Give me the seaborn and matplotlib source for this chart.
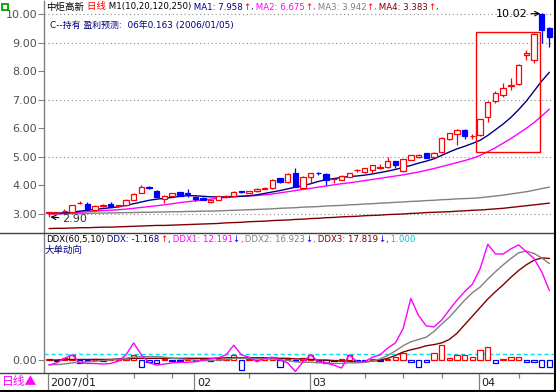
import numpy as np
import matplotlib
matplotlib.use('agg')
import matplotlib.pyplot as plt
import seaborn as sns
from matplotlib.lines import Line2D
from matplotlib.patches import Rectangle

sns.set_style('white')
FAM = ['DejaVu Sans', 'Noto Sans CJK SC']
plt.rcParams['font.family'] = FAM

# ---- daily candles, 2007/01 .. 2007/04 ----
opens = [3.02, 3.03, 3.11, 3.07, 3.37, 3.36, 3.14, 3.29, 3.35, 3.27,
         3.30, 3.50, 3.74, 3.95, 3.82, 3.52, 3.62, 3.77, 3.73, 3.58,
         3.55, 3.42, 3.50, 3.62, 3.64, 3.81, 3.75, 3.80, 3.89, 3.91,
         4.25, 4.12, 4.45, 3.92, 4.30, 4.44, 4.40, 4.21, 4.20, 4.30,
         4.53, 4.47, 4.53, 4.62, 4.63, 4.85, 4.52, 4.90, 5.00, 5.13,
         5.00, 5.17, 5.62, 5.80, 5.94, 5.72, 5.76, 6.40, 6.95, 7.15,
         7.48, 7.55, 8.58, 8.40, 10.00, 9.50]
closes = [3.06, 3.07, 3.12, 3.30, 3.38, 3.18, 3.28, 3.30, 3.25, 3.31,
          3.50, 3.70, 3.95, 3.90, 3.60, 3.63, 3.72, 3.64, 3.71, 3.53,
          3.50, 3.50, 3.62, 3.63, 3.77, 3.76, 3.79, 3.88, 3.90, 4.19,
          4.12, 4.40, 3.95, 4.30, 4.43, 4.42, 4.20, 4.22, 4.33, 4.43,
          4.54, 4.60, 4.70, 4.63, 4.85, 4.70, 4.92, 5.06, 5.06, 4.96,
          5.13, 5.66, 5.83, 5.94, 5.73, 5.73, 6.32, 6.92, 7.25, 7.40,
          7.50, 8.20, 8.62, 9.30, 9.45, 9.20]
highs = [3.08, 3.08, 3.16, 3.31, 3.47, 3.42, 3.30, 3.36, 3.42, 3.33,
         3.52, 3.72, 4.00, 3.97, 3.85, 3.65, 3.74, 3.78, 3.88, 3.62,
         3.58, 3.52, 3.64, 3.67, 3.79, 3.82, 3.80, 3.90, 3.93, 4.21,
         4.27, 4.42, 4.60, 4.32, 4.45, 4.47, 4.42, 4.27, 4.35, 4.45,
         4.58, 4.62, 4.72, 4.76, 5.00, 4.87, 4.94, 5.08, 5.10, 5.15,
         5.16, 5.68, 5.85, 5.97, 5.96, 5.80, 6.34, 6.95, 7.30, 7.60,
         7.75, 8.25, 8.75, 9.33, 10.02, 9.55]
lows = [2.90, 3.01, 3.08, 3.05, 3.36, 3.17, 3.12, 3.25, 3.23, 3.24,
        3.28, 3.48, 3.72, 3.88, 3.58, 3.40, 3.60, 3.62, 3.60, 3.46,
        3.48, 3.40, 3.48, 3.55, 3.62, 3.74, 3.73, 3.78, 3.86, 3.89,
        4.10, 4.10, 3.93, 3.88, 4.08, 4.38, 4.02, 4.10, 4.18, 4.28,
        4.47, 4.45, 4.45, 4.58, 4.61, 4.62, 4.48, 4.88, 4.95, 4.95,
        4.96, 5.15, 5.60, 5.40, 5.62, 5.62, 5.74, 6.22, 6.90, 7.10,
        7.35, 7.50, 8.40, 8.30, 8.98, 8.85]

# moving averages
ma1 = [3.03, 3.03, 3.04, 3.06, 3.10, 3.13, 3.16, 3.19, 3.22, 3.25,
       3.30, 3.36, 3.42, 3.48, 3.52, 3.55, 3.58, 3.62, 3.64, 3.64,
       3.62, 3.60, 3.60, 3.60, 3.61, 3.62, 3.64, 3.67, 3.72, 3.77,
       3.82, 3.88, 3.94, 3.99, 4.06, 4.14, 4.20, 4.24, 4.28, 4.31,
       4.33, 4.36, 4.40, 4.45, 4.50, 4.56, 4.63, 4.70, 4.78, 4.85,
       4.93, 5.05, 5.17, 5.28, 5.37, 5.47, 5.58, 5.75, 5.95, 6.15,
       6.38, 6.65, 6.95, 7.30, 7.65, 7.96]
ma2 = [3.00, 3.01, 3.02, 3.04, 3.06, 3.08, 3.10, 3.12, 3.13, 3.15,
       3.17, 3.20, 3.23, 3.26, 3.29, 3.32, 3.36, 3.40, 3.43, 3.46,
       3.49, 3.52, 3.55, 3.58, 3.60, 3.62, 3.63, 3.65, 3.67, 3.70,
       3.74, 3.78, 3.82, 3.86, 3.90, 3.94, 3.98, 4.02, 4.06, 4.09,
       4.13, 4.17, 4.21, 4.25, 4.29, 4.33, 4.37, 4.42, 4.47, 4.53,
       4.59, 4.66, 4.73, 4.80, 4.87, 4.95, 5.05, 5.18, 5.32, 5.48,
       5.64, 5.82, 6.00, 6.20, 6.43, 6.67]
ma3 = [3.00, 3.00, 3.01, 3.01, 3.02, 3.02, 3.03, 3.03, 3.04, 3.04,
       3.05, 3.05, 3.06, 3.06, 3.07, 3.07, 3.08, 3.08, 3.09, 3.09,
       3.10, 3.10, 3.11, 3.12, 3.13, 3.14, 3.15, 3.16, 3.17, 3.18,
       3.20, 3.21, 3.22, 3.24, 3.25, 3.26, 3.28, 3.29, 3.30, 3.32,
       3.33, 3.35, 3.36, 3.38, 3.39, 3.41, 3.42, 3.44, 3.45, 3.47,
       3.48, 3.50, 3.51, 3.53, 3.54, 3.55, 3.57, 3.60, 3.63, 3.66,
       3.70, 3.74, 3.78, 3.83, 3.89, 3.94]
ma4 = [2.49, 2.50, 2.50, 2.51, 2.52, 2.52, 2.53, 2.54, 2.54, 2.55,
       2.56, 2.57, 2.58, 2.59, 2.60, 2.60, 2.61, 2.62, 2.63, 2.64,
       2.65, 2.66, 2.67, 2.69, 2.70, 2.71, 2.73, 2.74, 2.75, 2.77,
       2.78, 2.79, 2.81, 2.82, 2.84, 2.85, 2.87, 2.88, 2.90, 2.91,
       2.92, 2.94, 2.95, 2.96, 2.98, 2.99, 3.00, 3.02, 3.03, 3.05,
       3.06, 3.07, 3.08, 3.10, 3.11, 3.13, 3.14, 3.16, 3.18, 3.20,
       3.23, 3.26, 3.29, 3.32, 3.35, 3.38]

# DDX indicator panel
ddx = [0.1, -0.2, 0.3, 0.9, -0.6, -0.2, 0.1, -0.1, 0.2, 0.2,
       0.4, 0.8, -1.3, -0.4, -0.5, 0.1, -0.2, -0.1, 0.3, -0.1,
       0.1, -0.1, 0.1, 0.2, 0.9, -1.8, 0.2, 0.4, 0.3, 0.4,
       -1.3, 0.2, -0.2, 0.3, 0.8, -0.2, -0.5, -0.2, 0.1, 0.8,
       -0.1, -0.1, 0.1, -0.1, 0.2, 0.5, 1.2, -0.3, -1.3, -0.3,
       1.2, 2.6, 0.3, 0.9, 0.8, 0.6, 1.8, 2.3, -0.5, 0.2,
       0.6, 0.6, -0.3, -0.3, -1.3, -1.17]
ddx1 = [-0.9, -0.5, 0.3, 0.9, -0.5, -0.6, -0.6, -0.7, -0.6, -0.2,
        0.9, 3.0, 0.9, -0.5, -0.9, -0.7, -0.5, -0.4, -0.4, -0.3,
        0.0, 0.2, 0.4, 0.9, 2.6, 0.9, 0.5, -0.3, 0.3, 0.5,
        0.0, -0.5, -2.0, -0.3, 0.9, -0.3, -0.5, -0.9, -1.4, 0.9,
        -0.3, -0.3, 0.5, 0.9, 2.1, 3.0, 5.5, 10.8, 7.8, 6.0,
        5.8, 7.0, 8.8, 10.5, 12.0, 13.3, 16.0, 20.3, 18.6, 18.6,
        19.5, 20.2, 19.0, 17.8, 15.5, 12.19]
ddx2 = [-0.8, -0.8, -0.7, -0.5, -0.4, -0.3, -0.2, -0.1, 0.0, 0.1,
        0.3, 0.5, 0.6, 0.6, 0.6, 0.5, 0.3, 0.2, 0.1, 0.0,
        -0.1, -0.1, 0.0, 0.1, 0.3, 0.3, 0.3, 0.2, 0.2, 0.2,
        0.1, -0.1, -0.3, -0.4, -0.4, -0.5, -0.5, -0.6, -0.6, -0.5,
        -0.5, -0.4, -0.2, 0.2, 0.8, 1.6, 2.5, 3.2, 3.6, 4.0,
        5.0, 6.3, 7.5, 9.0, 10.5, 11.8, 12.8, 14.2, 15.5, 16.7,
        17.8, 18.8, 19.1, 18.7, 17.9, 16.92]
ddx3 = [0.0, 0.0, 0.1, 0.1, 0.1, 0.1, 0.1, 0.1, 0.1, 0.2,
        0.2, 0.3, 0.3, 0.3, 0.3, 0.3, 0.3, 0.3, 0.3, 0.3,
        0.3, 0.3, 0.3, 0.4, 0.4, 0.4, 0.4, 0.4, 0.4, 0.4,
        0.3, 0.3, 0.2, 0.2, 0.1, 0.0, 0.0, -0.1, -0.2, -0.2,
        -0.3, -0.3, -0.2, 0.0, 0.3, 0.8, 1.4, 1.8, 2.1, 2.5,
        2.7, 3.0, 3.6, 4.7, 6.2, 7.7, 9.2, 10.7, 12.0, 13.2,
        14.5, 15.7, 16.7, 17.5, 17.9, 17.82]

month_start = [0, 19, 34, 56]
month_labels = ['2007/01', '02', '03', '04']
minor_ticks = [5, 11, 16, 26, 41, 46, 51, 61]
price_ticks = [3, 4, 5, 6, 7, 8, 9, 10]
grid_levels = [3, 5, 7, 9, 10]
box_first, box_last = 56, 63

RED = '#FF0000'
BLUE = '#0000FF'
NAVY = '#000080'
MAGENTA = '#FF00FF'
GRAY = '#808080'
DARKRED = '#800000'
CYAN = '#00C8D0'

W, H = 556, 392
fig = plt.figure(figsize=(W / 100, H / 100), dpi=100)
L, R = 44 / W, 554 / W
ax = fig.add_axes([L, 1 - 232 / H, R - L, 231 / H])
ax2 = fig.add_axes([L, 1 - 372 / H, R - L, 139 / H])
ax3 = fig.add_axes([L, 0, R - L, 19 / H])

x = np.arange(len(opens))
o, c = np.array(opens), np.array(closes)
h, l = np.array(highs), np.array(lows)
up = c >= o
lo_b, hi_b = np.minimum(o, c), np.maximum(o, c)
body = np.maximum(hi_b - lo_b, 0.008)

# MA lines
for ys, col in [(ma4, DARKRED), (ma3, GRAY), (ma2, MAGENTA), (ma1, NAVY)]:
    sns.lineplot(x=x, y=ys, ax=ax, color=col, linewidth=1.0, legend=False, zorder=2)

for v in grid_levels:
    ax.axhline(v, color='#8c8c8c', ls=(0, (1, 2.5)), lw=0.8, zorder=0)

# candles
ax.vlines(x[up], h[up], hi_b[up], color=RED, lw=0.9, zorder=3)
ax.vlines(x[up], l[up], lo_b[up], color=RED, lw=0.9, zorder=3)
ax.vlines(x[~up], l[~up], h[~up], color=BLUE, lw=0.9, zorder=3)
ax.bar(x[up], body[up], bottom=lo_b[up], width=0.7, facecolor='white',
       edgecolor=RED, linewidth=0.9, zorder=4)
ax.bar(x[~up], body[~up], bottom=lo_b[~up], width=0.7, facecolor=BLUE,
       edgecolor=BLUE, linewidth=0.9, zorder=4)

# highlight box round the breakout
sel = slice(box_first - 1, box_last + 1)
b_lo = l[sel].min() - 0.45
b_hi = h[sel].max() + 0.04
ax.add_patch(Rectangle((box_first - 0.55, b_lo), box_last - box_first + 1.35,
                       b_hi - b_lo, fill=False, edgecolor=RED, lw=1.0, zorder=5))

# min / max markers
imin, imax = int(np.argmin(l)), int(np.argmax(h))
ax.annotate(f'{l[imin]:.2f}', xy=(imin, l[imin]), xytext=(13, -2),
            textcoords='offset pixels', ha='left', va='center', fontsize=8,
            color='#333333', arrowprops=dict(arrowstyle='->', color='black', lw=0.8,
                                             shrinkA=0, shrinkB=1))
ax.annotate(f'{h[imax]:.2f}', xy=(imax, h[imax]), xytext=(-14, -1),
            textcoords='offset pixels', ha='right', va='center', fontsize=8,
            color='black', arrowprops=dict(arrowstyle='->', color='black', lw=0.8,
                                           shrinkA=0, shrinkB=1))

ax.set_xlim(-0.65, 65.6)
ax.set_ylim(2.37, 10.455)
ax.set_yticks(price_ticks)
ax.set_yticklabels([f'{v:.2f}' for v in price_ticks])
ax.set_xticks([])

# DDX panel
ddx_arr = np.array(ddx)
bar_cols = [RED if v >= 0 else BLUE for v in ddx_arr]
ax2.bar(x, ddx_arr, width=0.7, facecolor='white', edgecolor=bar_cols, linewidth=0.9, zorder=3)
ax2.axhline(1.0, color='#00E0F0', ls=(0, (3, 2)), lw=1.0, zorder=2)
for ys, col in [(ddx3, DARKRED), (ddx2, GRAY), (ddx1, MAGENTA)]:
    sns.lineplot(x=x, y=ys, ax=ax2, color=col, linewidth=1.0, legend=False, zorder=4)
ax2.set_xlim(-0.65, 65.6)
ax2.set_ylim(-2.1, 22.28)
ax2.set_yticks([0])
ax2.set_yticklabels(['0.00'])
ax2.set_xticks([])

for a in (ax, ax2):
    a.set_xlabel('')
    a.set_ylabel('')
    for s in ('top', 'right', 'bottom'):
        a.spines[s].set_visible(False)
    a.spines['left'].set_color(GRAY)
    a.spines['left'].set_linewidth(1.0)
    a.tick_params(axis='y', direction='out', length=4, width=0.8, color=GRAY,
                  labelsize=8, labelcolor='#505050', pad=1, left=True)
    a.set_facecolor('white')

# date strip
ax3.set_xlim(-0.65, 65.6)
ax3.set_ylim(0, 1)
ax3.axis('off')
ax3.vlines([m - 0.1 for m in month_start], 0, 1, color=GRAY, lw=0.9)
ax3.vlines(minor_ticks, 0.72, 1, color=GRAY, lw=0.9)
for m, lab in zip(month_start, month_labels):
    ax3.text(m + 0.2, 0.45, lab, ha='left', va='center', fontsize=8, color='#202020')

# frame lines
fig.add_artist(Line2D([0, 1], [1 - 232.5 / H] * 2, color='#404040', lw=1))
fig.add_artist(Line2D([0, 1], [1 - 372.5 / H] * 2, color='#404040', lw=1))
fig.add_artist(Line2D([1 - 1 / W] * 2, [0, 1], color='black', lw=1.5))
fig.add_artist(Line2D([0, 1], [1.2 / H] * 2, color='black', lw=1.5))
fig.add_artist(Rectangle((2 / W, 1 - 10 / H), 6 / W, 6 / H, fill=False,
                         edgecolor='#00A000', lw=1.3))
fig.text(2 / W, 1 - 382 / H, '日线▲', color='#FF00FF', fontsize=8.5,
         family=['Noto Sans CJK SC', 'DejaVu Sans'], ha='left', va='center')

rend = fig.canvas.get_renderer()


def text_row(x_px, y_px, parts):
    xx = x_px
    for s, col, size in parts:
        t = fig.text(xx / W, 1 - y_px / H, s, color=col, fontsize=size,
                     family=FAM, ha='left', va='center')
        xx += t.get_window_extent(renderer=rend).width


ma_vals = ['7.958', '6.675', '3.942', '3.383']
text_row(46, 7, [('中炬高新', 'black', 6.8), (' 日线', RED, 6.8),
                 (' M1(10,20,120,250)', 'black', 6.2),
                 (' MA1: ' + ma_vals[0], NAVY, 6.2), ('↑', RED, 6.2), (',', NAVY, 6.2),
                 (' MA2: ' + ma_vals[1], MAGENTA, 6.2), ('↑', RED, 6.2), (',', MAGENTA, 6.2),
                 (' MA3: ' + ma_vals[2], GRAY, 6.2), ('↑', RED, 6.2), (',', GRAY, 6.2),
                 (' MA4: ' + ma_vals[3], DARKRED, 6.2), ('↑', RED, 6.2), (',', DARKRED, 6.2)])
text_row(50, 25, [('C--持有 盈利预测:  06年0.163 (2006/01/05)', NAVY, 6.4)])

ddx_vals = ['-1.168', '12.191', '16.923', '17.819', '1.000']
text_row(46, 239, [('DDX(60,5,10)', 'black', 6.2),
                   (' DDX: ' + ddx_vals[0], NAVY, 6.2), ('↑', RED, 6.2), (',', NAVY, 6.2),
                   (' DDX1: ' + ddx_vals[1], MAGENTA, 6.2), ('↓', BLUE, 6.2), (',', MAGENTA, 6.2),
                   (' DDX2: ' + ddx_vals[2], GRAY, 6.2), ('↓', BLUE, 6.2), (',', GRAY, 6.2),
                   (' DDX3: ' + ddx_vals[3], DARKRED, 6.2), ('↓', BLUE, 6.2), (',', DARKRED, 6.2),
                   (' ' + ddx_vals[4], CYAN, 6.2)])
text_row(45, 250, [('大单动向', NAVY, 6.8)])

fig.savefig('out.png', dpi=100)
